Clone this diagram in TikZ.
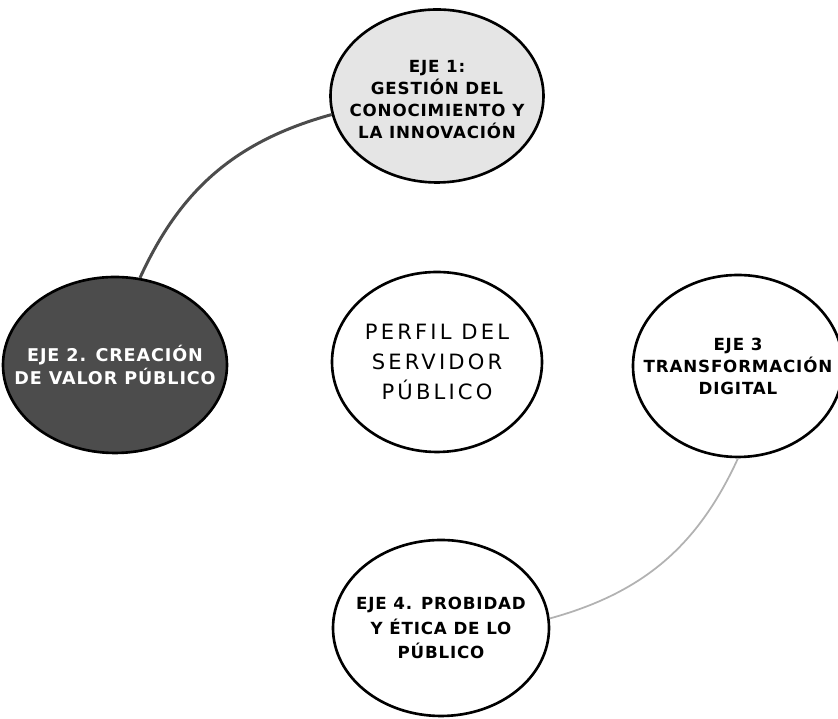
\documentclass[tikz,border=0pt]{standalone}
\usepackage{fontspec}
\setsansfont{DejaVu Sans}
\newfontfamily\perfilfont[LetterSpace=15]{DejaVu Sans}
\newfontfamily\ejefont[LetterSpace=5]{DejaVu Sans}
\usetikzlibrary{shapes.geometric}
\tikzset{
  eje/.style = {ellipse, draw = black, line width = 1.5pt, inner sep = 0pt, fill = white},
  ejetext/.style = {align = center, font = \ejefont\bfseries\fontsize{9.5}{12.5}\selectfont},
  link/.style = {line width = 1.7pt, draw = black!70}
}

\begin{document}
\begin{tikzpicture}
                \useasboundingbox (0,0) rectangle (16.76,14.38);
                \node[eje, fill = black!10, minimum width = 4.26cm, minimum height = 3.46cm,
                  label = {[ejetext, yshift = -2pt]center:EJE 1:\\GESTIÓN DEL\\CONOCIMIENTO Y\\LA INNOVACIÓN}] (eje1) at (8.74,12.46) {};
                \node[eje, fill = black!70, minimum width = 4.48cm, minimum height = 3.52cm,
                  label = {[ejetext, text = white, font = \ejefont\bfseries\fontsize{10}{13}\selectfont]center:EJE 2. CREACIÓN\\DE VALOR PÚBLICO}] (eje2) at (2.30,7.08) {};
                \node[eje, minimum width = 4.2cm, minimum height = 3.6cm,
                  label = {[align = center, font = \perfilfont\fontsize{12}{17}\selectfont]center:PERFIL DEL\\SERVIDOR\\PÚBLICO}] (perfil) at (8.74,7.14) {};
                \node[eje, minimum width = 4.2cm, minimum height = 3.64cm,
                  label = {[ejetext]center:EJE 3\\TRANSFORMACIÓN\\DIGITAL}] (eje3) at (14.76,7.06) {};
                \node[eje, minimum width = 4.32cm, minimum height = 3.52cm,
                  label = {[ejetext, font = \ejefont\bfseries\fontsize{9.5}{14}\selectfont]center:EJE 4. PROBIDAD\\Y ÉTICA DE LO\\PÚBLICO}] (eje4) at (8.82,1.82) {};
                \draw[link] (eje2.74) to[bend left = 25] (eje1.190);
                \draw[link, line width = 1pt, draw = black!30] (eje3.270) to[bend left = 25] (eje4.5);
                \end{tikzpicture}
\end{document}
